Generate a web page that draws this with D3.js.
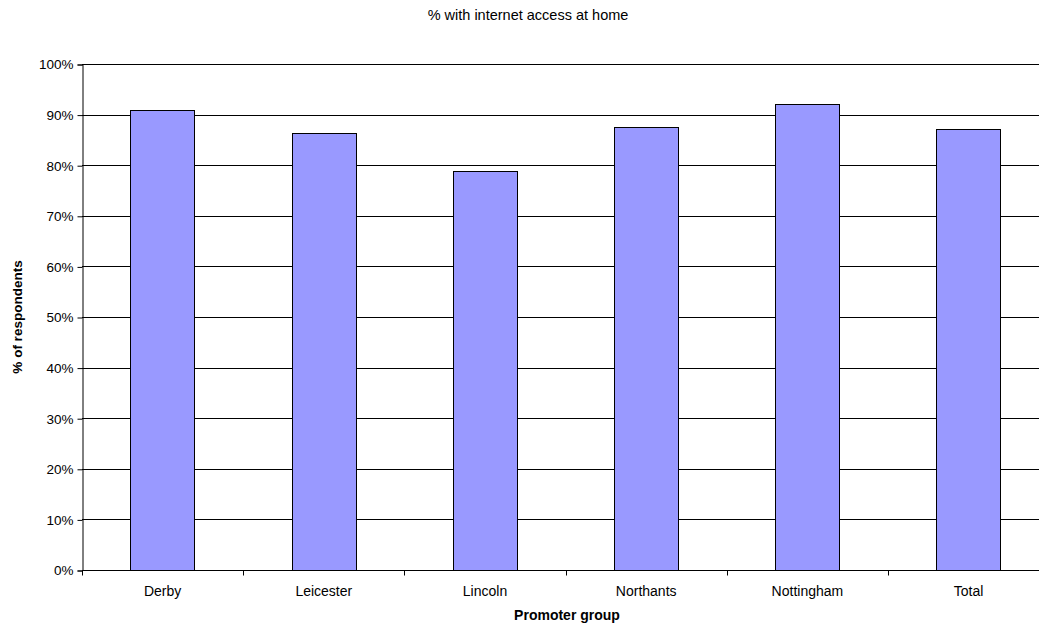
<!DOCTYPE html>
<html>
<head>
<meta charset="utf-8">
<script src="https://cdn.jsdelivr.net/npm/d3@7"></script>
<style>
  html, body { margin: 0; padding: 0; background: #fff; }
  svg { display: block; font-family: Arial, "Liberation Sans", sans-serif; }
</style>
</head>
<body>
<svg id="chart" width="1039" height="626"></svg>
<script>
// Share of respondents with internet access at home, by promoter group
const categories = ["Derby", "Leicester", "Lincoln", "Northants", "Nottingham", "Total"];
const values = [0.91, 0.864, 0.789, 0.876, 0.92, 0.871];
const yTicks = [0, 0.1, 0.2, 0.3, 0.4, 0.5, 0.6, 0.7, 0.8, 0.9, 1.0];

const svg = d3.select("#chart");
const plotLeft = 82, plotTop = 64, plotBottom = 570;
const bandW = 161.2;
const plotRight = plotLeft + bandW * categories.length;

const x = d3.scaleBand().domain(categories).range([plotLeft, plotRight]).padding(0);
const y = d3.scaleLinear().domain([0, 1]).range([plotBottom, plotTop]);

// horizontal gridlines
svg.append("g")
  .selectAll("line")
  .data(yTicks)
  .join("line")
  .attr("x1", plotLeft).attr("x2", plotRight)
  .attr("y1", d => Math.round(y(d)) + 0.5)
  .attr("y2", d => Math.round(y(d)) + 0.5)
  .attr("stroke", "#000")
  .attr("stroke-width", 1);

// bars
const barW = x.bandwidth() * 0.4;
svg.append("g")
  .selectAll("rect")
  .data(categories.map((c, i) => ({ c, v: values[i] })))
  .join("rect")
  .attr("x", d => Math.round(x(d.c) + (x.bandwidth() - barW) / 2) + 0.5)
  .attr("y", d => Math.round(y(d.v)) + 0.5)
  .attr("width", Math.round(barW))
  .attr("height", d => Math.round(y(0)) - Math.round(y(d.v)))
  .attr("fill", "#9999ff")
  .attr("stroke", "#000")
  .attr("stroke-width", 1);

// y axis
const yAxis = d3.axisLeft(y)
  .tickValues(yTicks)
  .tickFormat(d3.format(".0%"))
  .tickSize(5)
  .tickPadding(4);
const gy = svg.append("g")
  .attr("transform", `translate(${plotLeft + 0.5},0.5)`)
  .call(yAxis);
gy.select(".domain").attr("stroke", "#000");
gy.selectAll(".tick line").attr("stroke", "#000");
gy.selectAll(".tick text")
  .attr("font-size", 13.5)
  .attr("font-family", "Arial, 'Liberation Sans', sans-serif")
  .attr("fill", "#000");

// x axis: ticks sit on category boundaries
const gx = svg.append("g")
  .attr("transform", `translate(0,${plotBottom + 0.5})`);
gx.append("line")
  .attr("x1", plotLeft).attr("x2", plotRight)
  .attr("stroke", "#000");
gx.selectAll("line.tk")
  .data(d3.range(categories.length + 1))
  .join("line")
  .attr("class", "tk")
  .attr("x1", i => Math.round(plotLeft + i * x.step()) + 0.5)
  .attr("x2", i => Math.round(plotLeft + i * x.step()) + 0.5)
  .attr("y1", 0).attr("y2", 5)
  .attr("stroke", "#000");
gx.selectAll("text")
  .data(categories)
  .join("text")
  .attr("x", d => x(d) + x.bandwidth() / 2)
  .attr("y", 25)
  .attr("text-anchor", "middle")
  .attr("font-size", 14)
  .attr("fill", "#000")
  .text(d => d);

// titles
svg.append("text")
  .attr("x", 528).attr("y", 19.5)
  .attr("text-anchor", "middle")
  .attr("font-size", 14.5)
  .text("% with internet access at home");

svg.append("text")
  .attr("x", 567).attr("y", 620)
  .attr("text-anchor", "middle")
  .attr("font-size", 14)
  .attr("font-weight", "bold")
  .text("Promoter group");

svg.append("text")
  .attr("transform", `translate(22,${(plotTop + plotBottom) / 2}) rotate(-90)`)
  .attr("text-anchor", "middle")
  .attr("font-size", 13.5)
  .attr("font-weight", "bold")
  .text("% of respondents");
</script>
</body>
</html>
